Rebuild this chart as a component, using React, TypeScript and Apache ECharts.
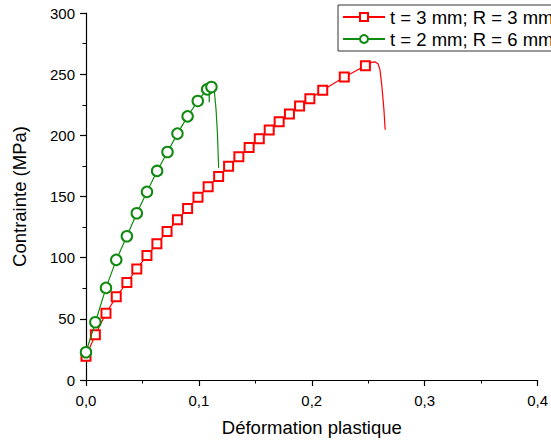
import React, { useEffect, useRef } from "react";
import * as echarts from "echarts";

// Red: t = 3 mm; R = 3 mm (markers)
const redStrain = [0.0, 0.0083, 0.0177, 0.0268, 0.0362, 0.045, 0.054, 0.0628, 0.0718, 0.081, 0.09, 0.0992, 0.1082, 0.1175, 0.1263, 0.1354, 0.1445, 0.1535, 0.1623, 0.1711, 0.1802, 0.1892, 0.1983, 0.2097, 0.2288, 0.2475];
const redStress = [19.4, 37.0, 54.6, 68.0, 79.7, 90.8, 101.7, 111.3, 121.3, 130.9, 140.1, 149.3, 157.9, 166.3, 174.7, 182.4, 190.0, 197.3, 204.4, 211.2, 217.5, 224.0, 230.0, 236.8, 247.7, 256.9];
// Red tail (no markers)
const redTailStrain = [0.2527, 0.2562, 0.2586, 0.2604, 0.2621, 0.2639, 0.265];
const redTailStress = [259.6, 260.0, 258.6, 253.7, 240.0, 221.0, 204.6];

// Green: t = 2 mm; R = 6 mm (markers)
const greenStrain = [0.0, 0.0083, 0.0177, 0.0268, 0.0362, 0.045, 0.054, 0.063, 0.0722, 0.081, 0.09, 0.099, 0.1073];
const greenStress = [22.7, 47.2, 75.3, 98.2, 117.5, 136.3, 153.8, 170.9, 186.4, 201.4, 215.5, 228.1, 237.6];
// Green glitch + peak + tail
const greenTailStrain = [0.109, 0.1092, 0.1094, 0.1111, 0.1137, 0.1152, 0.1164, 0.1175];
const greenTailStress = [238.5, 227.0, 238.8, 239.5, 236.0, 221.0, 202.0, 173.4];
const greenTailMarker = [false, false, false, true, false, false, false, false];

const xTicks = [0, 0.1, 0.2, 0.3, 0.4];
const yTicks = [0, 50, 100, 150, 200, 250, 300];

const FONT = "'Liberation Sans', Arial, sans-serif";

export default function App() {
  const ref = useRef<HTMLDivElement>(null);
  useEffect(() => {
    if (!ref.current) return;
    const chart = echarts.init(ref.current, null, { renderer: "svg" });
    const redData: any[] = redStrain.map((x, i) => ({ value: [x, redStress[i]] }));
    redTailStrain.forEach((x, i) => redData.push({ value: [x, redTailStress[i]], symbol: "none" }));
    const greenData: any[] = greenStrain.map((x, i) => ({ value: [x, greenStress[i]] }));
    greenTailStrain.forEach((x, i) =>
      greenData.push(greenTailMarker[i] ? { value: [x, greenTailStress[i]] } : { value: [x, greenTailStress[i]], symbol: "none" })
    );
    const axisCommon = {
      axisLine: { show: true, lineStyle: { color: "#000", width: 1.2 } },
      axisTick: { show: true, inside: false, length: 6, lineStyle: { color: "#000", width: 1.2 } },
      minorTick: { show: true, splitNumber: 2, length: 3.5, lineStyle: { color: "#000", width: 1 } },
      splitLine: { show: false },
      minorSplitLine: { show: false },
    };
    chart.setOption({
      animation: false,
      backgroundColor: "#fff",
      textStyle: { fontFamily: FONT },
      grid: { left: 86, right: 10, top: 13, bottom: 62, containLabel: false },
      legend: {
        orient: "vertical",
        left: 338,
        top: 5,
        padding: [2.5, 4, 2.5, 4],
        itemGap: 3,
        itemWidth: 42,
        itemHeight: 10,
        borderColor: "#333",
        borderWidth: 1,
        backgroundColor: "#fff",
        textStyle: { fontSize: 18.5, color: "#000", fontFamily: FONT, lineHeight: 19 },
        data: ["t = 3 mm; R = 3 mm", "t = 2 mm; R = 6 mm"],
      },
      xAxis: {
        type: "value",
        min: xTicks[0],
        max: xTicks[xTicks.length - 1],
        interval: 0.1,
        name: "Déformation plastique",
        nameLocation: "middle",
        nameGap: 38,
        nameTextStyle: { fontSize: 18.5, color: "#000", fontFamily: FONT },
        axisLabel: {
          fontSize: 15,
          color: "#000",
          margin: 13,
          fontFamily: FONT,
          formatter: (v: number) => v.toFixed(1).replace(".", ","),
        },
        ...axisCommon,
      },
      yAxis: {
        type: "value",
        min: yTicks[0],
        max: yTicks[yTicks.length - 1],
        interval: 50,
        name: "Contrainte (MPa)",
        nameLocation: "middle",
        nameGap: 57,
        nameRotate: 90,
        nameTextStyle: { fontSize: 18.5, color: "#000", fontFamily: FONT },
        axisLabel: { fontSize: 15, color: "#000", margin: 11, fontFamily: FONT },
        ...axisCommon,
      },
      series: [
        {
          name: "t = 3 mm; R = 3 mm",
          type: "line",
          data: redData,
          symbol: "emptyRect",
          symbolSize: 9,
          showAllSymbol: true,
          lineStyle: { color: "#ff0000", width: 1.2 },
          itemStyle: { color: "#ff0000", borderWidth: 1 },
          z: 2,
        },
        {
          name: "t = 2 mm; R = 6 mm",
          type: "line",
          data: greenData,
          symbol: "emptyCircle",
          symbolSize: 10.5,
          showAllSymbol: true,
          lineStyle: { color: "#108a10", width: 1.2 },
          itemStyle: { color: "#108a10", borderWidth: 1 },
          z: 3,
        },
      ],
    });
    return () => chart.dispose();
  }, []);
  return <div ref={ref} style={{ width: 551, height: 442, position: "absolute", left: 0, top: 0 }} />;
}
